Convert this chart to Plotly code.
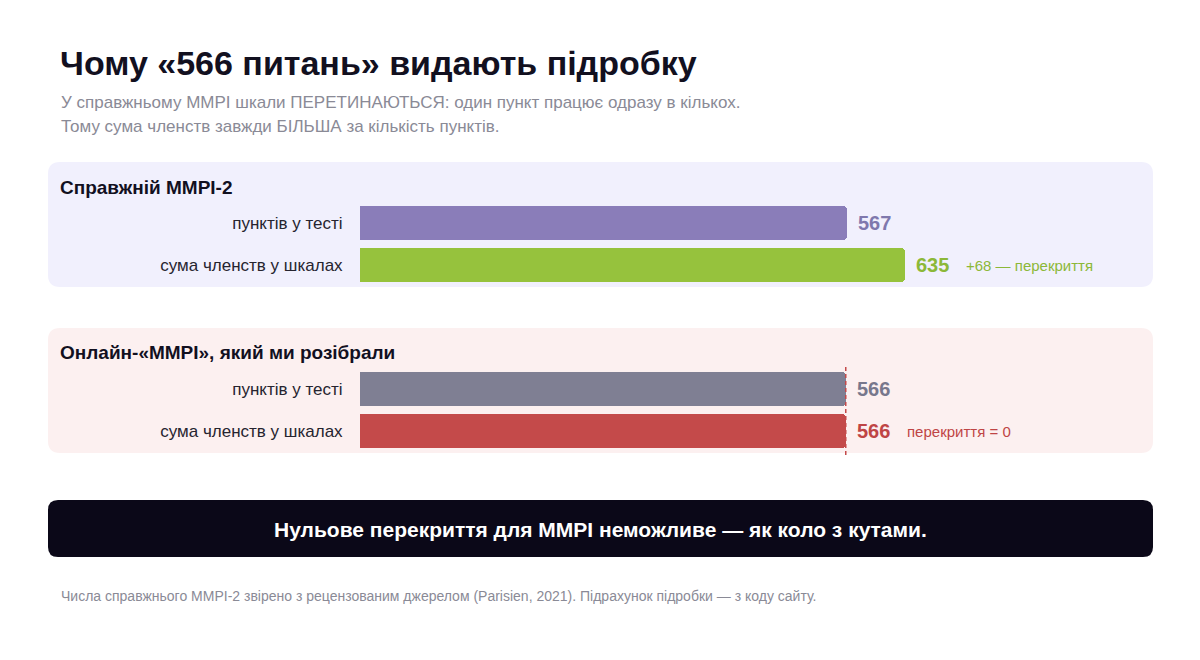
import plotly.graph_objects as go

W, H = 1200, 660
FONT = "Liberation Sans, Arial, sans-serif"

# ---- data ----
categories = ["пунктів у тесті", "сума членств у шкалах"]
real_values = [567, 635]
online_values = [566, 566]
real_colors = ["#8a7db9", "#96c23d"]
online_colors = ["#7f7f93", "#c44a4a"]
real_label_colors = ["#7f78ad", "#8cb838"]
online_label_colors = ["#77778c", "#bf4545"]
real_note = "+68 — перекриття"
online_note = "перекриття = 0"
panel_titles = ["Справжній MMPI-2", "Онлайн-«MMPI», який ми розібрали"]

title = "Чому «566 питань» видають підробку"
subtitle1 = "У справжньому MMPI шкали ПЕРЕТИНАЮТЬСЯ: один пункт працює одразу в кількох."
subtitle2 = "Тому сума членств завжди БІЛЬША за кількість пунктів."
banner = "Нульове перекриття для MMPI неможливе — як коло з кутами."
footer = "Числа справжнього MMPI-2 звірено з рецензованим джерелом (Parisien, 2021). Підрахунок підробки — з коду сайту."


def px(p):
    return p / W


def py(p):
    return 1 - p / H


def rrect(x0, y0, x1, y1, r):
    X0, X1 = px(x0), px(x1)
    Y0, Y1 = py(y0), py(y1)
    rx, ry = r / W, r / H
    return (f"M {X0+rx},{Y0} L {X1-rx},{Y0} Q {X1},{Y0} {X1},{Y0-ry} "
            f"L {X1},{Y1+ry} Q {X1},{Y1} {X1-rx},{Y1} L {X0+rx},{Y1} "
            f"Q {X0},{Y1} {X0},{Y1+ry} L {X0},{Y0-ry} Q {X0},{Y0} {X0+rx},{Y0} Z")


fig = go.Figure()

fig.add_trace(go.Bar(y=categories, x=real_values, orientation="h",
                     marker=dict(color=real_colors, line=dict(width=0), cornerradius=4),
                     width=0.81, xaxis="x", yaxis="y", hoverinfo="skip", showlegend=False))
fig.add_trace(go.Bar(y=categories, x=online_values, orientation="h",
                     marker=dict(color=online_colors, line=dict(width=0), cornerradius=4),
                     width=0.81, xaxis="x2", yaxis="y2", hoverinfo="skip", showlegend=False))

XMAX = 924
xdom = [px(360), px(1153)]
common_y = dict(autorange=False, range=[1.5, -0.5], showgrid=False, zeroline=False,
                showline=False, ticks="outside", ticklen=13, tickcolor="rgba(0,0,0,0)",
                tickfont=dict(size=17, color="#26242f", family=FONT), fixedrange=True)

fig.update_layout(
    width=W, height=H,
    margin=dict(l=0, r=0, t=0, b=0),
    paper_bgcolor="white", plot_bgcolor="rgba(0,0,0,0)",
    font=dict(family=FONT),
    xaxis=dict(domain=xdom, range=[0, XMAX], visible=False, anchor="y", fixedrange=True),
    xaxis2=dict(domain=xdom, range=[0, XMAX], visible=False, anchor="y2", fixedrange=True),
    yaxis=dict(domain=[py(286), py(202)], anchor="x", **common_y),
    yaxis2=dict(domain=[py(452), py(368)], anchor="x2", **common_y),
    bargap=0,
)

shapes = [
    dict(type="path", path=rrect(48, 162, 1153, 287, 12), xref="paper", yref="paper",
         fillcolor="#f1f0fd", line=dict(width=0), layer="below"),
    dict(type="path", path=rrect(48, 328, 1153, 453, 12), xref="paper", yref="paper",
         fillcolor="#fcf0f0", line=dict(width=0), layer="below"),
    dict(type="path", path=rrect(48, 500, 1153, 557, 10), xref="paper", yref="paper",
         fillcolor="#0b0818", line=dict(width=0), layer="below"),
    dict(type="line", xref="x2", yref="paper", x0=online_values[0], x1=online_values[0],
         y0=py(455), y1=py(366), line=dict(color="#c44a4a", width=1.5, dash="4px,3px"), layer="above"),
]
fig.update_layout(shapes=shapes)

ann = []


def text(x, y, s, size, color, bold=False, xanchor="left"):
    ann.append(dict(x=px(x), y=py(y), xref="paper", yref="paper", text=f"<b>{s}</b>" if bold else s,
                    showarrow=False, xanchor=xanchor, yanchor="middle",
                    font=dict(size=size, color=color, family=FONT)))


text(58, 63, title, 34, "#12101f", bold=True)
text(59, 103, subtitle1, 17, "#8a8a96")
text(59, 126, subtitle2, 17, "#8a8a96")
text(58, 187, panel_titles[0], 19, "#12101f", bold=True)
text(58, 353, panel_titles[1], 19, "#12101f", bold=True)
text(600, 529, banner, 21, "#ffffff", bold=True, xanchor="center")
text(59, 596, footer, 14, "#8a8a96")

for i, (v, c) in enumerate(zip(real_values, real_label_colors)):
    ann.append(dict(x=v, y=categories[i], xref="x", yref="y", text=f"<b>{v}</b>", showarrow=False,
                    xanchor="left", yanchor="middle", xshift=9,
                    font=dict(size=20, color=c, family=FONT)))
for i, (v, c) in enumerate(zip(online_values, online_label_colors)):
    ann.append(dict(x=v, y=categories[i], xref="x2", yref="y2", text=f"<b>{v}</b>", showarrow=False,
                    xanchor="left", yanchor="middle", xshift=9,
                    font=dict(size=20, color=c, family=FONT)))

ann.append(dict(x=real_values[1], y=categories[1], xref="x", yref="y", text=real_note, showarrow=False,
                xanchor="left", yanchor="middle", xshift=59,
                font=dict(size=15, color="#8cb838", family=FONT)))
ann.append(dict(x=online_values[1], y=categories[1], xref="x2", yref="y2", text=online_note, showarrow=False,
                xanchor="left", yanchor="middle", xshift=59,
                font=dict(size=15, color="#bf4545", family=FONT)))

fig.update_layout(annotations=ann)
fig.write_html("out.html")
